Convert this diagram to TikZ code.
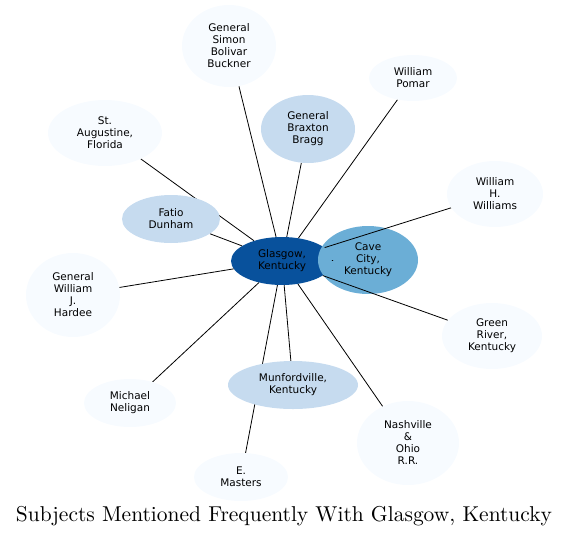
\documentclass[tikz,border=0pt]{standalone}
\usepackage{fontspec}
\setsansfont{DejaVu Sans}
\usetikzlibrary{shapes.geometric,backgrounds}
\definecolor{bluesDark}{HTML}{08519C}
\definecolor{bluesMid}{HTML}{6BAED6}
\definecolor{bluesLight}{HTML}{C6DBEF}
\definecolor{bluesPale}{HTML}{F7FBFF}
\pgfdeclarelayer{edges}
\pgfsetlayers{background,edges,main}

\begin{document}
\begin{tikzpicture}[x=1pt,y=-1pt,
          subject/.style={ellipse, inner sep=0pt, align=center, text=black,
            font=\sffamily\fontsize{10.5}{12}\selectfont},
          pale/.style={subject, fill=bluesPale},
          light/.style={subject, fill=bluesLight},
          link/.style={black, line width=0.8pt}
        ]
          \useasboundingbox (0,0) rectangle (569,538);
          % the hub and its close neighbour sit under the links
          \begin{pgfonlayer}{background}
            \node[subject, fill=bluesDark, minimum width=102, minimum height=48] (glasgow) at (282,261) {Glasgow,\\Kentucky};
            \node[subject, fill=bluesMid, minimum width=100, minimum height=68] (cave) at (368,260) {Cave\\City,\\Kentucky};
          \end{pgfonlayer}
          \node[pale, minimum width=94, minimum height=82] (buckner) at (229,46) {General\\Simon\\Bolivar\\Buckner};
          \node[pale, minimum width=88, minimum height=46] (pomar) at (413,78) {William\\Pomar};
          \node[light, minimum width=94, minimum height=68] (bragg) at (308,129) {General\\Braxton\\Bragg};
          \node[pale, minimum width=114, minimum height=66] (augustine) at (105,133) {St.\\Augustine,\\Florida};
          \node[light, minimum width=98, minimum height=48] (dunham) at (171,219) {Fatio\\Dunham};
          \node[pale, minimum width=96, minimum height=66] (williams) at (495,194) {William\\H.\\Williams};
          \node[pale, minimum width=94, minimum height=84] (hardee) at (73,295) {General\\William\\J.\\Hardee};
          \node[pale, minimum width=100, minimum height=66] (green) at (492,336) {Green\\River,\\Kentucky};
          \node[light, minimum width=130, minimum height=48] (munford) at (293,385) {Munfordville,\\Kentucky};
          \node[pale, minimum width=92, minimum height=48] (neligan) at (130,403) {Michael\\Neligan};
          \node[pale, minimum width=102, minimum height=84] (nashville) at (408,443) {Nashville\\\&\\Ohio\\R.R.};
          \node[pale, minimum width=94, minimum height=48] (masters) at (241,477) {E.\\Masters};
          \begin{pgfonlayer}{edges}
            \foreach \other in {buckner,pomar,bragg,augustine,dunham,williams,hardee,green,munford,neligan,nashville,masters}
              \draw[link] (glasgow) -- (\other);
            % overlapping neighbour: only a speck of the link shows
            \draw[link, shorten >=14pt] (glasgow) -- (cave);
          \end{pgfonlayer}
          \node (title) at (284,516) {\resizebox{536pt}{!}{Subjects Mentioned Frequently With Glasgow, Kentucky}};
        \end{tikzpicture}
\end{document}
